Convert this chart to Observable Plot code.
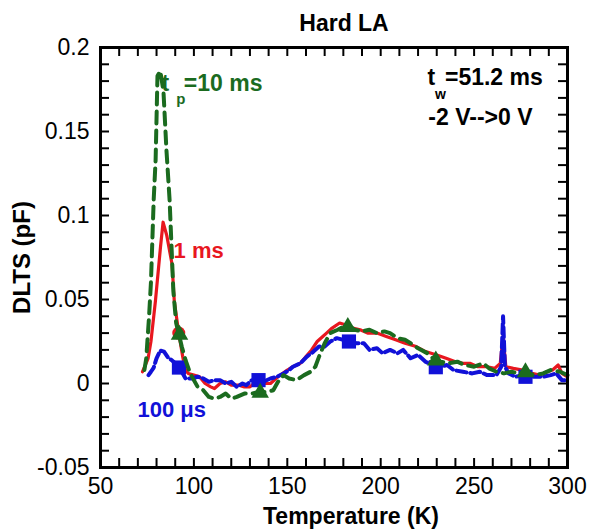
<!DOCTYPE html>
<html><head><meta charset="utf-8">
<script src="https://cdn.jsdelivr.net/npm/d3@7"></script>
<script src="https://cdn.jsdelivr.net/npm/@observablehq/plot@0.6"></script>
<style>body{margin:0;background:#fff;font-family:"Liberation Sans",Arial,sans-serif}</style>
</head><body><div id="chart"></div>
<script>
// ---- data (Temperature K, DLTS pF) ----
const redT = [72.5,74,75.5,77,79.4,82.1,83.5,85.5,88.3,89.5,91.9,94,95.5,97,100,103,106,109,111,114,117,120,124,127,130,133,137,141,145,150,153,157,160,163,166,169,171,174,178,181,185,189,193,198,203,208,213,219,224,230,235,240,244,248,252,257,261,264,265.5,267,271,276,281,285,289,292,295,297,300];
const redV = [0.007,0.011,0.015,0.025,0.049,0.081,0.096,0.088,0.071,0.049,0.030,0.016,0.008,0.006,0.005,0.004,0.000,-0.002,-0.003,0.000,0.001,-0.001,-0.001,-0.002,-0.002,0.001,0.000,0.000,0.004,0.008,0.010,0.012,0.016,0.020,0.025,0.028,0.030,0.033,0.036,0.035,0.033,0.032,0.030,0.030,0.028,0.026,0.024,0.022,0.019,0.017,0.015,0.013,0.012,0.012,0.010,0.010,0.009,0.012,0.028,0.010,0.009,0.008,0.006,0.005,0.007,0.008,0.011,0.006,0.004];

const blueT = [75.7,77,78.5,80,82,84,86.4,88,90,91.8,93.5,95.5,99,102,105,108,111,114,117,120,123,126,128,131,134,137,141,144.5,148,151,153,157,160.5,164,167,170,173,176.5,180,183,187,191,194,198,201,205,209,212,216,220,224,229,232,235.5,239,244,249,253,257,262,264.5,265.5,266.5,268.5,272,277,282,287,291,294,297,300];
const blueV = [0.005,0.007,0.0095,0.015,0.0196,0.019,0.015,0.014,0.012,0.0095,0.007,0.003,0.003,0.004,0.003,0.001,0.002,0.002,0.000,0.001,-0.002,0.000,-0.001,0.002,0.002,0.001,0.003,0.004,0.006,0.008,0.010,0.012,0.016,0.019,0.022,0.022,0.025,0.027,0.026,0.025,0.024,0.024,0.020,0.021,0.018,0.020,0.018,0.020,0.015,0.017,0.013,0.010,0.010,0.011,0.008,0.007,0.006,0.007,0.005,0.005,0.010,0.040,0.010,0.006,0.004,0.005,0.004,0.004,0.005,0.006,0.002,0.002];

const greenT = [73.5,74.5,76,77,78.5,79.5,80.5,82,83.7,85.3,87,89,90.5,91.8,93.5,95.5,98,102,105,108,111,114,117,120,123,127,131,135,139,142.5,145,148,151,155,159,162.5,165,167,170,173,177,182,186,190,194,198,202,205,209,213,216,220,225,229,232,236,241,245,250,255,258,262,266,270,274,277.5,282,287,291,296,300];
const greenV = [0.008,0.015,0.040,0.060,0.110,0.133,0.183,0.186,0.174,0.139,0.109,0.055,0.036,0.030,0.022,0.014,0.006,-0.002,-0.004,-0.008,-0.009,-0.008,-0.006,-0.009,-0.008,-0.006,-0.006,-0.005,-0.005,-0.004,0.001,0.005,0.003,0.002,0.005,0.007,0.010,0.016,0.024,0.030,0.032,0.035,0.032,0.031,0.032,0.030,0.031,0.030,0.027,0.026,0.024,0.021,0.018,0.014,0.013,0.012,0.013,0.011,0.010,0.012,0.009,0.007,0.006,0.007,0.006,0.007,0.005,0.006,0.008,0.007,0.005];

// markers
const circleT = [91.9];
const circleV = [0.030];
const squareT = [92, 134.6, 183, 229.5, 277.5];
const squareV = [0.0095, 0.002, 0.025, 0.0097, 0.004];
const triT = [92.3, 135.5, 182.4, 229.5, 277.5];
const triV = [0.029, -0.0055, 0.0336, 0.0137, 0.0067];

// ticks
const xTickLabels = [50, 100, 150, 200, 250, 300];
const yTickLabels = [-0.05, 0, 0.05, 0.1, 0.15, 0.2];

// annotations
const notes = [
  {t: "t", x: 82.7, y: 0.1786, c: "#1b6b1f", s: 23},
  {t: "p", x: 90.6, y: 0.1690, c: "#1b6b1f", s: 15},
  {t: "=10 ms", x: 94.6, y: 0.1786, c: "#1b6b1f", s: 23},
  {t: "1 ms", x: 89.1, y: 0.079, c: "#e8171f", s: 22},
  {t: "100 μs", x: 69.8, y: -0.016, c: "#1111d8", s: 22},
  {t: "t", x: 225, y: 0.182, c: "#000", s: 23},
  {t: "w", x: 229.1, y: 0.1718, c: "#000", s: 14},
  {t: "=51.2 ms", x: 234.4, y: 0.182, c: "#000", s: 23},
  {t: "-2 V-->0 V", x: 225.5, y: 0.1583, c: "#000", s: 23}
];

const zip = (T, V) => T.map((t, i) => ({t, v: V[i]}));
const red = zip(redT, redV), blue = zip(blueT, blueV), green = zip(greenT, greenV);
const xMinor = d3.range(6, 30).map(i => i * 10);
const yMinor = d3.range(-4, 20).map(i => i / 100);

const RED = "#e8171f", BLUE = "#1111d8", GREEN = "#1b6b1f";
const W = 590, H = 529, ML = 100, MR = 23, MT = 47, MB = 62;
const FW = W - ML - MR, FH = H - MT - MB, TL = 9;
const XD = [50, 300], YD = [-0.05, 0.2];
const tx = TL * (XD[1] - XD[0]) / FW;   // tick length in x units
const ty = TL * (YD[1] - YD[0]) / FH;   // tick length in y units
const tickStyle = {stroke: "#000", strokeWidth: 2};

const chart = Plot.plot({
  width: W, height: H,
  marginLeft: ML, marginRight: MR, marginTop: MT, marginBottom: MB,
  style: {fontFamily: "'Liberation Sans', Arial, sans-serif", background: "#fff"},
  x: {domain: XD, axis: null},
  y: {domain: YD, axis: null},
  marks: [
    // inward ticks on all four sides
    Plot.ruleX(xMinor, {x: d => d, y1: YD[0], y2: YD[0] + ty, ...tickStyle}),
    Plot.ruleX(xMinor, {x: d => d, y1: YD[1] - ty, y2: YD[1], ...tickStyle}),
    Plot.ruleY(yMinor, {y: d => d, x1: XD[0], x2: XD[0] + tx, ...tickStyle}),
    Plot.ruleY(yMinor, {y: d => d, x1: XD[1] - tx, x2: XD[1], ...tickStyle}),
    Plot.axisX({anchor: "bottom", ticks: xTickLabels, tickSize: 0, tickPadding: 10, fontSize: 23, fill: "#000", tickFormat: d => String(d), label: null}),
    Plot.axisY({anchor: "left", ticks: yTickLabels, tickSize: 0, tickPadding: 11, fontSize: 23, fill: "#000", tickFormat: d => String(d), label: null}),
    // series
    Plot.line(red, {x: "t", y: "v", stroke: RED, strokeWidth: 3.2}),
    Plot.dot(zip(circleT, circleV), {x: "t", y: "v", r: 6.5, fill: RED, stroke: "none"}),
    Plot.line(blue, {x: "t", y: "v", stroke: BLUE, strokeWidth: 4, strokeDasharray: "10,4"}),
    Plot.dot(zip(squareT, squareV), {x: "t", y: "v", symbol: "square", r: 8, fill: BLUE, stroke: "none"}),
    Plot.line(green, {x: "t", y: "v", stroke: GREEN, strokeWidth: 4, strokeDasharray: "12,7"}),
    Plot.dot(zip(triT, triV), {x: "t", y: "v", symbol: "triangle", r: 6.5, fill: GREEN, stroke: "none"}),
    // annotations
    Plot.text(notes, {x: "x", y: "y", text: "t", fill: "c", fontSize: "s", fontWeight: "bold", textAnchor: "start", lineAnchor: "middle"}),
    // frame
    Plot.frame({stroke: "#000", strokeWidth: 3}),
    // titles
    Plot.text(["Hard LA"], {frameAnchor: "top", dx: 10, dy: -24, fontSize: 23, fontWeight: "bold", lineAnchor: "middle", fill: "#000"}),
    Plot.text(["Temperature (K)"], {frameAnchor: "bottom", dx: 17, dy: 49, fontSize: 23, fontWeight: "bold", lineAnchor: "middle", fill: "#000"}),
    Plot.text(["DLTS (pF)"], {frameAnchor: "left", dx: -78, rotate: -90, textAnchor: "middle", fontSize: 24, fontWeight: "bold", lineAnchor: "middle", fill: "#000"})
  ]
});
document.getElementById("chart").appendChild(chart);
</script>
</body></html>
